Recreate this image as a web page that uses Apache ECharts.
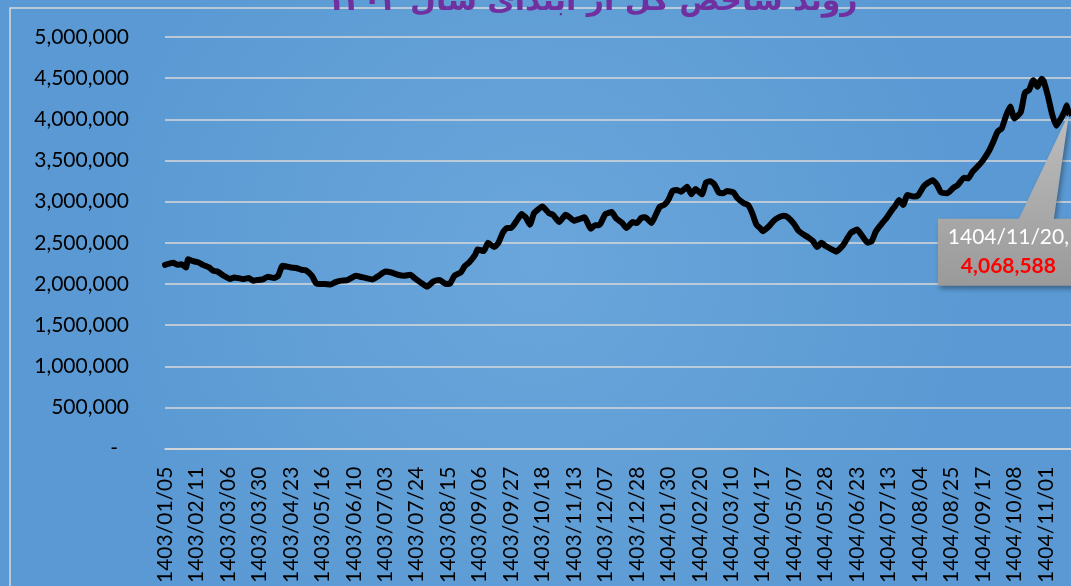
<!DOCTYPE html>
<html>
<head>
<meta charset="utf-8">
<script src="https://cdn.jsdelivr.net/npm/echarts@6/dist/echarts.min.js"></script>
<style>html,body{margin:0;padding:0;}#c{width:1071px;height:586px;}</style>
</head>
<body>
<div id="c"></div>
<script>
const titleText = 'روند شاخص کل از ابتدای سال ۱۴۰۳';
const tickLabels = ['1403/01/05','1403/02/11','1403/03/06','1403/03/30','1403/04/23','1403/05/16','1403/06/10','1403/07/03','1403/07/24','1403/08/15','1403/09/06','1403/09/27','1403/10/18','1403/11/13','1403/12/07','1403/12/28','1404/01/30','1404/02/20','1404/03/10','1404/04/17','1404/05/07','1404/05/28','1404/06/23','1404/07/13','1404/08/04','1404/08/25','1404/09/17','1404/10/08','1404/11/01'];
const lastDate = '1404/11/20';
const days = [0,2,4,6,8,10,11,13,16,18,21,23,25,28,31,33,35,37,40,42,44,47,49,52,54,56,58,60,63,65,67,70,72,74,76,79,81,84,87,91,93,96,99,102,105,108,111,114,117,119,122,125,128,131,134,136,138,141,143,145,148,149,152,154,157,159,161,163,165,168,170,172,174,176,180,183,185,188,191,193,195,198,200,203,205,207,210,213,215,218,220,223,225,227,229,232,234,236,238,240,242,244,246,249,251,253,256,258,260,262,264,266,268,271,273,276,278,280,282,284,285,288,290,292,295,297,300,302,304,307,309,311,313,315,318,320,323,325,327,330,332,335,337,339,342,344,347,348,350,352,354,357,359,362,366,368,370,373,376,378,381,383,385,388,390,393,395,397,399,401,403,405,408,410,412,414,415,416,418,419,421,423,425,427,429,430,431];
const values = [2232000,2247000,2256000,2232000,2239000,2200000,2299000,2280000,2260000,2232000,2200000,2160000,2151000,2100000,2059000,2079000,2071000,2059000,2071000,2040000,2047000,2059000,2088000,2071000,2100000,2220000,2212000,2200000,2191000,2172000,2167000,2100000,2011000,1999000,1999000,1992000,2019000,2040000,2047000,2100000,2088000,2071000,2055000,2100000,2151000,2139000,2112000,2100000,2112000,2071000,2016000,1968000,2031000,2047000,1999000,2007000,2100000,2139000,2220000,2260000,2359000,2419000,2400000,2500000,2448000,2500000,2620000,2680000,2680000,2780000,2849000,2809000,2720000,2861000,2941000,2861000,2840000,2752000,2840000,2809000,2768000,2792000,2809000,2672000,2713000,2713000,2849000,2873000,2800000,2740000,2680000,2752000,2740000,2800000,2809000,2740000,2840000,2941000,2960000,3020000,3129000,3141000,3121000,3181000,3089000,3153000,3089000,3233000,3249000,3209000,3113000,3101000,3129000,3113000,3041000,2981000,2960000,2861000,2720000,2672000,2641000,2701000,2761000,2800000,2828000,2809000,2728000,2648000,2608000,2560000,2520000,2448000,2500000,2460000,2419000,2392000,2460000,2540000,2620000,2660000,2600000,2500000,2520000,2641000,2740000,2800000,2912000,2941000,3020000,2960000,3081000,3061000,3073000,3193000,3261000,3209000,3113000,3101000,3169000,3201000,3290000,3281000,3362000,3441000,3501000,3621000,3730000,3850000,3891000,4042000,4155000,4011000,4083000,4323000,4355000,4475000,4443000,4395000,4492000,4463000,4282000,4062000,3922000,4002000,4102000,4171000,4068588];

const seriesData = days.map((d, i) => [d, values[i]]);
const lastIdx = days[days.length - 1];
const lastVal = values[values.length - 1];
const fmt = v => Math.round(v).toLocaleString('en-US');

const chart = echarts.init(document.getElementById('c'));
chart.setOption({
  animation: false,
  backgroundColor: {
    type: 'radial', x: 0.5, y: 0.45, r: 0.75,
    colorStops: [{offset: 0, color: '#6AA6DB'}, {offset: 1, color: '#5A99D3'}]
  },
  title: {
    text: titleText,
    left: 587, top: -18, textAlign: 'center',
    textStyle: {color: '#7030A0', fontSize: 30, fontWeight: 'bold', fontFamily: 'DejaVu Sans'}
  },
  graphic: [{
    type: 'rect', silent: true, z: 0,
    shape: {x: 10, y: 8, width: 1200, height: 700},
    style: {fill: 'none', stroke: '#D9D9D9', lineWidth: 1.5}
  }],
  grid: {left: 165, right: 0, top: 37, bottom: 129, containLabel: false},
  xAxis: {
    type: 'value', min: 0, max: 432, interval: 15,
    axisLine: {show: true, lineStyle: {color: '#D9D9D9', width: 1.5}},
    axisTick: {show: false},
    splitLine: {show: false},
    axisLabel: {
      rotate: 90, margin: 18, color: '#000', fontSize: 21, fontFamily: 'Lato',
      showMaxLabel: false,
      formatter: v => tickLabels[Math.round(v / 15)] || ''
    }
  },
  yAxis: {
    type: 'value', min: 0, max: 5000000, interval: 500000,
    axisLine: {show: false}, axisTick: {show: false},
    splitLine: {lineStyle: {color: '#D9D9D9', width: 1.5}},
    axisLabel: {
      margin: 36, color: '#000', fontSize: 21, fontFamily: 'Lato',
      formatter: v => v === 0 ? '{z|-}' : fmt(v),
      rich: {z: {fontSize: 21, fontFamily: 'Lato', color: '#000', padding: [0, 11, 0, 0]}}
    }
  },
  series: [{
    type: 'line',
    data: seriesData,
    showSymbol: false,
    smooth: 0.15,
    lineStyle: {color: '#000', width: 6, join: 'round', cap: 'round'},
    z: 3,
    markPoint: {
      silent: true,
      symbol: 'path://M0,0 L-15,105 L10,105 L10,172 L-131,172 L-131,105 L-50,105 Z',
      symbolSize: [141, 172],
      symbolOffset: [-60.5, 86],
      itemStyle: {
        color: {type: 'linear', x: 0, y: 0, x2: 0, y2: 1,
          colorStops: [{offset: 0, color: '#BDBDBD'}, {offset: 1, color: '#9A9A9A'}]},
        shadowColor: 'rgba(0,0,0,0.35)', shadowBlur: 5, shadowOffsetX: 2, shadowOffsetY: 3
      },
      label: {
        show: true, position: 'inside', offset: [0, 52.5],
        formatter: lastDate + ',\n' + '{v|' + fmt(lastVal) + '}',
        color: '#fff', fontSize: 21, fontFamily: 'Lato', lineHeight: 29, align: 'center',
        rich: {v: {color: '#FF0000', fontSize: 21, fontWeight: 'bold', fontFamily: 'Lato', lineHeight: 29}}
      },
      data: [{coord: [lastIdx, lastVal]}]
    }
  }]
});
</script>
</body>
</html>
